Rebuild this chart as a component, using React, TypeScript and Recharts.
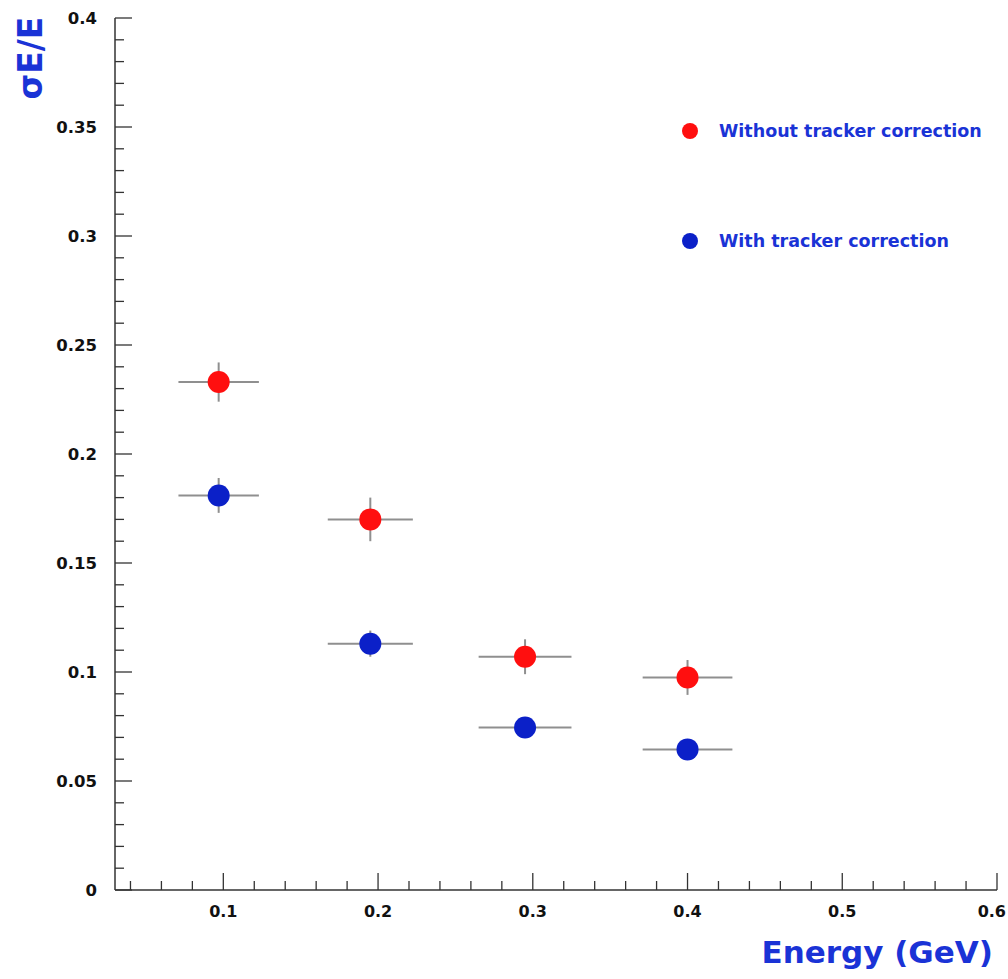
import React from "react";
import {
  ScatterChart,
  Scatter,
  XAxis,
  YAxis,
  ErrorBar,
  Legend,
  Label,
} from "recharts";

// energy points (GeV) and their bin half-widths
const energy = [0.097, 0.195, 0.295, 0.4];
const energyErr = [0.026, 0.0275, 0.03, 0.029];

// sigma E / E
const withoutCorr = [0.233, 0.170, 0.107, 0.0975];
const withoutErr = [0.009, 0.01, 0.008, 0.008];
const withCorr = [0.181, 0.113, 0.0745, 0.0645];
const withErr = [0.008, 0.006, 0.004, 0.004];

const xMajorTicks = [0.1, 0.2, 0.3, 0.4, 0.5, 0.6];
const xAllTicks = [
  0.04, 0.06, 0.08, 0.1, 0.12, 0.14, 0.16, 0.18, 0.2, 0.22, 0.24, 0.26, 0.28,
  0.3, 0.32, 0.34, 0.36, 0.38, 0.4, 0.42, 0.44, 0.46, 0.48, 0.5, 0.52, 0.54,
  0.56, 0.58, 0.6,
];
const yMajorTicks = [0, 0.05, 0.1, 0.15, 0.2, 0.25, 0.3, 0.35, 0.4];
const yAllTicks = Array.from({ length: 41 }, (_, i) => i / 100);

const RED = "#ff0f0f";
const BLUE = "#0b20c8";
const TEXT_BLUE = "#1a33d6";
const AXIS = "#333";
const FONT = "DejaVu Sans";

const redData = energy.map((e, i) => ({
  x: e,
  y: withoutCorr[i],
  ex: energyErr[i],
  ey: withoutErr[i],
}));
const blueData = energy.map((e, i) => ({
  x: e,
  y: withCorr[i],
  ex: energyErr[i],
  ey: withErr[i],
}));

const isMajor = (v: number, majors: number[]) =>
  majors.some((m) => Math.abs(m - v) < 1e-6);

// ticks point inwards, like the original frame
function makeTick(side: "bottom" | "top" | "left" | "right", labels: boolean) {
  return (props: any) => {
    const { x, y, payload } = props;
    const v = payload.value as number;
    const major =
      side === "bottom" || side === "top"
        ? isMajor(v, xMajorTicks)
        : isMajor(v, yMajorTicks);
    const len = major ? 17 : 9;
    let line;
    if (side === "bottom") line = <line x1={x} x2={x} y1={y} y2={y - len} />;
    else if (side === "top") line = <line x1={x} x2={x} y1={y} y2={y + len} />;
    else if (side === "left") line = <line x1={x} x2={x + len} y1={y} y2={y} />;
    else line = <line x1={x} x2={x - len} y1={y} y2={y} />;

    // last label sits at the page edge, keep it inside
    const last = side === "bottom" && Math.abs(v - 0.6) < 1e-6;

    return (
      <g>
        <g stroke={AXIS} strokeWidth={1.3}>{line}</g>
        {labels && major && side === "bottom" && (
          <text
            x={last ? 1006 : x}
            y={y + 27}
            textAnchor={last ? "end" : "middle"}
            fontFamily={FONT}
            fontWeight="bold"
            fontSize={16}
            fill="#111"
          >
            {String(v)}
          </text>
        )}
        {labels && major && side === "left" && (
          <text
            x={x - 18}
            y={y + 6}
            textAnchor="end"
            fontFamily={FONT}
            fontWeight="bold"
            fontSize={16.5}
            fill="#111"
          >
            {String(v)}
          </text>
        )}
      </g>
    );
  };
}

function LegendBox() {
  const items = [
    { label: "Without tracker correction", color: RED },
    { label: "With tracker correction", color: BLUE },
  ];
  return (
    <div style={{ fontFamily: FONT }}>
      {items.map((it, i) => (
        <div
          key={it.label}
          style={{
            display: "flex",
            alignItems: "center",
            height: 22,
            marginTop: i === 0 ? 0 : 88,
          }}
        >
          <span
            style={{
              display: "inline-block",
              width: 16,
              height: 16,
              borderRadius: 8,
              background: it.color,
              marginLeft: 2,
            }}
          />
          <span
            style={{
              marginLeft: 21,
              color: TEXT_BLUE,
              fontWeight: "bold",
              fontSize: 17.5,
              whiteSpace: "nowrap",
            }}
          >
            {it.label}
          </span>
        </div>
      ))}
    </div>
  );
}

const dot = (color: string) => (props: any) =>
  <circle cx={props.cx} cy={props.cy} r={11} fill={color} />;

export default function App() {
  return (
    <div
      style={{
        position: "absolute",
        left: 0,
        top: 0,
        width: 1008,
        height: 979,
        overflow: "hidden",
        background: "#fff",
      }}
    >
      <ScatterChart
        width={1008}
        height={979}
        margin={{ top: 18, right: 11, bottom: 0, left: 0 }}
      >
        <XAxis
          dataKey="x"
          type="number"
          domain={[0.03, 0.6]}
          allowDataOverflow
          ticks={xAllTicks}
          interval={0}
          height={89}
          tickSize={0}
          tickMargin={0}
          tickLine={false}
          axisLine={{ stroke: AXIS, strokeWidth: 1.5 }}
          tick={makeTick("bottom", true)}
        >
          <Label
            content={() => (
              <text
                x={993}
                y={963}
                textAnchor="end"
                fontFamily={FONT}
                fontWeight="bold"
                fontSize={31}
                fill={TEXT_BLUE}
              >
                Energy (GeV)
              </text>
            )}
          />
        </XAxis>
        <XAxis
          xAxisId="top"
          orientation="top"
          type="number"
          domain={[0.03, 0.6]}
          allowDataOverflow
          ticks={xAllTicks}
          interval={0}
          height={0}
          tickSize={0}
          tickMargin={0}
          tickLine={false}
          axisLine={{ stroke: AXIS, strokeWidth: 1.5 }}
          tick={makeTick("top", false)}
        />
        <YAxis
          dataKey="y"
          type="number"
          domain={[0, 0.4]}
          allowDataOverflow
          ticks={yAllTicks}
          interval={0}
          width={115}
          tickSize={0}
          tickMargin={0}
          tickLine={false}
          axisLine={{ stroke: AXIS, strokeWidth: 1.5 }}
          tick={makeTick("left", true)}
        >
          <Label
            content={() => (
              <text
                x={42}
                y={58}
                transform="rotate(-90 42 58)"
                textAnchor="middle"
                fontFamily={FONT}
                fontWeight="bold"
                fontSize={33}
                fill={TEXT_BLUE}
              >
                σE/E
              </text>
            )}
          />
        </YAxis>
        <YAxis
          yAxisId="right"
          orientation="right"
          type="number"
          domain={[0, 0.4]}
          allowDataOverflow
          ticks={yAllTicks}
          interval={0}
          width={0}
          tickSize={0}
          tickMargin={0}
          tickLine={false}
          axisLine={{ stroke: AXIS, strokeWidth: 1.5 }}
          tick={makeTick("right", false)}
        />
        <Legend
          layout="vertical"
          align="center"
          verticalAlign="middle"
          content={<LegendBox />}
          wrapperStyle={{ top: 120, left: 680, width: 320 }}
        />
        <Scatter
          name="Without tracker correction"
          data={redData}
          fill={RED}
          shape={dot(RED)}
          isAnimationActive={false}
        >
          <ErrorBar dataKey="ex" direction="x" width={0} stroke="#8f8f8f" strokeWidth={2} />
          <ErrorBar dataKey="ey" direction="y" width={0} stroke="#8f8f8f" strokeWidth={2} />
        </Scatter>
        <Scatter
          name="With tracker correction"
          data={blueData}
          fill={BLUE}
          shape={dot(BLUE)}
          isAnimationActive={false}
        >
          <ErrorBar dataKey="ex" direction="x" width={0} stroke="#8f8f8f" strokeWidth={2} />
          <ErrorBar dataKey="ey" direction="y" width={0} stroke="#8f8f8f" strokeWidth={2} />
        </Scatter>
      </ScatterChart>
    </div>
  );
}
